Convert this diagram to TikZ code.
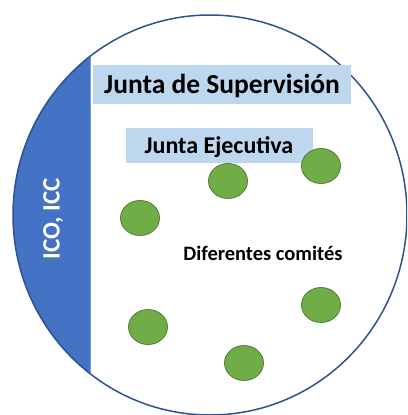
\documentclass[tikz,border=0pt]{standalone}
\usepackage{fontspec}
\setmainfont{Carlito}
\definecolor{ringblue}{HTML}{2F528F}
\definecolor{segblue}{HTML}{4472C4}
\definecolor{boxblue}{HTML}{BDD7EE}
\definecolor{dotgreen}{HTML}{70AD47}
\definecolor{dotedge}{HTML}{507E32}
\tikzset{
  dot/.style={ellipse, fill=dotgreen, draw=dotedge, line width=0.8pt, minimum width=39pt, minimum height=35pt, inner sep=0pt},
  boxlabel/.style={fill=boxblue, inner sep=0pt, font=\bfseries}
}
\usetikzlibrary{shapes.geometric}
\begin{document}
\begin{tikzpicture}[x=1pt,y=-1pt]
\useasboundingbox (0,0) rectangle (407,415);
\clip (0,0) rectangle (407,415);
\begin{scope}
  \clip (210,215) ellipse [x radius=197, y radius=200];
  \fill[segblue] (0,0) rectangle (90,415);
  \draw[segblue!70!white, line width=0.8pt] (90,0) -- (90,415);
\end{scope}
\draw[ringblue, line width=1.5pt] (210,215) ellipse [x radius=197, y radius=200];
\node[boxlabel, minimum width=258pt, minimum height=39pt, anchor=north west] (sup) at (93,65) {};
\node[font=\bfseries\fontsize{27.5}{32}\selectfont] (suptext) at (222,86) {Junta de Supervisión};
\node[boxlabel, minimum width=187pt, minimum height=35pt, anchor=north west] (eje) at (126,128) {};
\node[font=\bfseries\fontsize{24}{28}\selectfont] (ejetext) at (219,147) {Junta Ejecutiva};
\node[font=\bfseries\fontsize{20.5}{24}\selectfont] (comites) at (263,253) {Diferentes comités};
\node[font=\bfseries\fontsize{25}{30}\selectfont, text=white, rotate=90] (ico) at (53,219) {ICO, ICC};
\node[dot] (c1) at (140,218) {};
\node[dot] (c2) at (228,181) {};
\node[dot] (c3) at (321,166) {};
\node[dot] (c4) at (148,327) {};
\node[dot] (c5) at (321,305) {};
\node[dot] (c6) at (244,363) {};
\end{tikzpicture}
\end{document}
